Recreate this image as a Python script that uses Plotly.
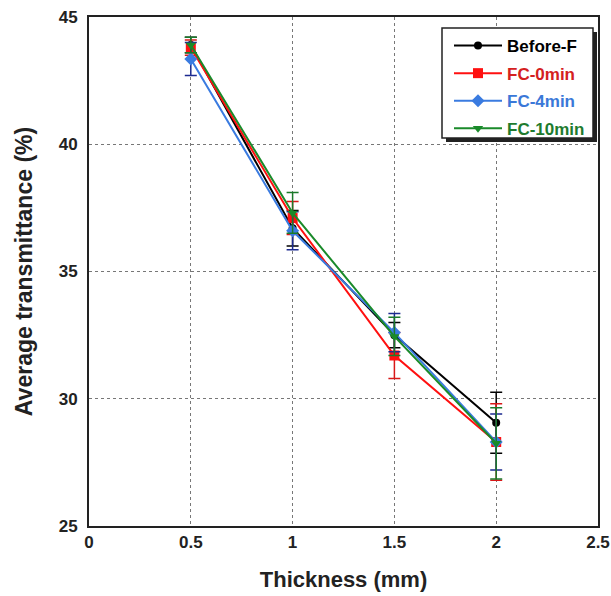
import plotly.graph_objects as go

thickness = [0.5, 1.0, 1.5, 2.0]

before_f = [43.9, 36.7, 32.5, 29.06]
before_f_err = [0.3, 0.7, 0.5, 1.2]

fc_0min = [43.8, 37.1, 31.7, 28.3]
fc_0min_err = [0.3, 0.65, 0.9, 1.5]

fc_4min = [43.35, 36.6, 32.6, 28.3]
fc_4min_err = [0.65, 0.75, 0.75, 1.1]

fc_10min = [43.9, 37.3, 32.45, 28.25]
fc_10min_err = [0.3, 0.8, 0.75, 1.4]

x_ticks = [0, 0.5, 1, 1.5, 2, 2.5]
x_ticklabels = ["0", "0.5", "1", "1.5", "2", "2.5"]
y_ticks = [25, 30, 35, 40, 45]

series = [
    ("Before-F", before_f, before_f_err, "#000000", "#000000", "circle", 8),
    ("FC-0min", fc_0min, fc_0min_err, "#ff1010", "#d81818", "square", 10),
    ("FC-4min", fc_4min, fc_4min_err, "#3a7be0", "#1c2a90", "diamond", 10),
    ("FC-10min", fc_10min, fc_10min_err, "#1a8a2a", "#1a7a2a", "triangle-down", 9),
]
legend_text_colors = ["#000000", "#d42020", "#3a78d8", "#1e7b2e"]

FONT = "Arial, 'Liberation Sans', sans-serif"

fig = go.Figure()
for (name, ys, errs, color, ecolor, sym, size), tcol in zip(series, legend_text_colors):
    fig.add_trace(go.Scatter(
        x=thickness, y=ys, name=f"<span style='color:{tcol}'>{name}</span>",
        legendgroup=name,
        mode="lines+markers",
        line=dict(color=color, width=2),
        marker=dict(symbol=sym, size=size, color=color),
        error_y=dict(type="data", array=errs, visible=True, color=ecolor,
                     thickness=1.5, width=6),
    ))

W, H = 611, 596
L, R, T, B = 89, 13, 17, 70
pw, ph = W - L - R, H - T - B

def px_x(p):
    return (p - L) / pw

def px_y(p):
    return (H - B - p) / ph

fig.update_layout(
    width=W, height=H,
    margin=dict(l=L, r=R, t=T, b=B, autoexpand=False),
    paper_bgcolor="white", plot_bgcolor="white",
    font=dict(family=FONT, size=15, color="black"),
    showlegend=True,
    legend=dict(
        x=px_x(449), y=px_y(28),
        xanchor="left", yanchor="top",
        bgcolor="rgba(0,0,0,0)", borderwidth=0,
        font=dict(family=FONT, size=17, color="black", weight="bold"),
        tracegroupgap=2.5, itemwidth=48,
    ),
    xaxis=dict(
        range=[0, 2.5], tickvals=x_ticks, ticktext=x_ticklabels,
        showgrid=True, gridcolor="#777777", griddash="dot", gridwidth=1,
        showline=True, linecolor="#222222", linewidth=2, mirror=True,
        ticks="", zeroline=False, automargin=False, ticklabeloverflow="allow",
        tickfont=dict(family=FONT, size=17, color="#222222", weight="bold"),
        title=dict(text="Thickness (mm)", standoff=20,
                   font=dict(family=FONT, size=22, color="#222222", weight="bold")),
    ),
    yaxis=dict(
        range=[25, 45], tickvals=y_ticks,
        showgrid=True, gridcolor="#777777", griddash="dot", gridwidth=1,
        showline=True, linecolor="#222222", linewidth=2, mirror=True,
        ticks="", zeroline=False, ticklabelstandoff=6, automargin=False,
        ticklabeloverflow="allow",
        tickfont=dict(family=FONT, size=17, color="#222222", weight="bold"),
        title=dict(text="Average transmittance (%)", standoff=20,
                   font=dict(family=FONT, size=23, color="#222222", weight="bold")),
    ),
)

# legend frame with drop shadow
fig.add_shape(type="rect", xref="paper", yref="paper",
              x0=px_x(446), x1=px_x(597), y0=px_y(142), y1=px_y(32),
              fillcolor="#222222", line=dict(width=0), layer="above")
fig.add_shape(type="rect", xref="paper", yref="paper",
              x0=px_x(442), x1=px_x(593), y0=px_y(138), y1=px_y(28),
              fillcolor="white", line=dict(color="#222222", width=1.5), layer="above")

fig.write_html(
    "out.html",
    config={"displayModeBar": False},
    post_script="document.body.style.margin='0';document.body.style.overflow='hidden';",
)
